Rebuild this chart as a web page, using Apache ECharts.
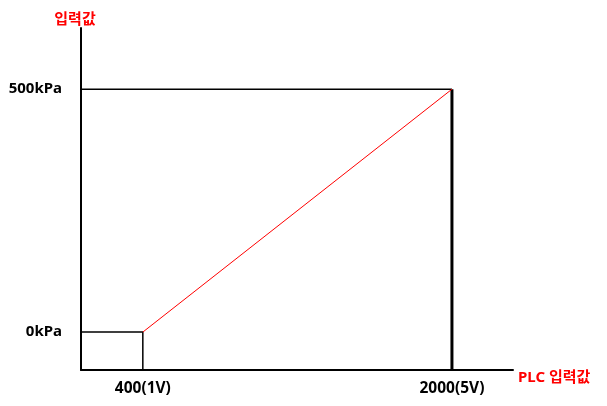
<!DOCTYPE html>
<html>
<head>
<meta charset="utf-8">
<script src="https://cdn.jsdelivr.net/npm/echarts@6/dist/echarts.min.js"></script>
<style>html,body{margin:0;padding:0;background:#fff;}#c{width:607px;height:406px;}</style>
</head>
<body>
<div id="c"></div>
<script>
const xTicks = [400, 2000];
const xTickLabels = ['400(1V)', '2000(5V)'];
const yTicks = [0, 500];
const yTickLabels = ['0kPa', '500kPa'];
const xName = 'PLC 입력값';
const yName = '입력값';
const redLine = [[400, 0], [2000, 500]];
const xMin = 80, xMax = 2316, yMin = -78, yMax = 626;

const font = '"Noto Sans", "Noto Sans CJK KR", sans-serif';
const chart = echarts.init(document.getElementById('c'));
chart.setOption({
  animation: false,
  backgroundColor: '#fff',
  grid: { left: 81, top: 28, width: 432, height: 342, outerBoundsMode: 'none' },
  xAxis: {
    type: 'value', min: xMin, max: xMax,
    name: xName, nameLocation: 'end', nameGap: 5,
    nameTextStyle: { color: '#ff0000', fontWeight: 'bold', fontSize: 15, fontFamily: font, verticalAlign: 'top', padding: [0, 0, 0, 0] },
    axisLine: { show: true, onZero: false, lineStyle: { color: '#000', width: 2 } },
    axisTick: { show: false }, splitLine: { show: false },
    axisLabel: {
      customValues: xTicks, margin: 11, color: '#000', fontWeight: 'bold', fontSize: 15.5, fontFamily: font,
      formatter: v => xTickLabels[xTicks.indexOf(v)]
    }
  },
  yAxis: {
    type: 'value', min: yMin, max: yMax,
    name: yName, nameLocation: 'end', nameGap: 1,
    nameTextStyle: { color: '#ff0000', fontWeight: 'bold', fontSize: 15, fontFamily: font, padding: [0, 12, 0, 0] },
    axisLine: { show: true, onZero: false, lineStyle: { color: '#000', width: 2 } },
    axisTick: { show: false }, splitLine: { show: false },
    axisLabel: {
      customValues: yTicks, margin: 19, color: '#000', fontWeight: 'bold', fontSize: 15, fontFamily: font,
      formatter: v => yTickLabels[yTicks.indexOf(v)]
    }
  },
  series: [
    { type: 'line', symbol: 'none', clip: false, silent: true,
      data: [[xMin, yTicks[1]], [xTicks[1], yTicks[1]]],
      lineStyle: { color: '#000', width: 1.5 } },
    { type: 'line', symbol: 'none', clip: false, silent: true,
      data: [[xTicks[1], yMin], [xTicks[1], yTicks[1]]],
      lineStyle: { color: '#000', width: 3 } },
    { type: 'line', symbol: 'none', clip: false, silent: true,
      data: [[xMin, yTicks[0]], [xTicks[0], yTicks[0]], [xTicks[0], yMin]],
      lineStyle: { color: '#000', width: 1.5 } },
    { type: 'line', symbol: 'none', clip: false, silent: true,
      data: redLine,
      lineStyle: { color: '#ff0000', width: 1 } }
  ]
});
</script>
</body>
</html>
